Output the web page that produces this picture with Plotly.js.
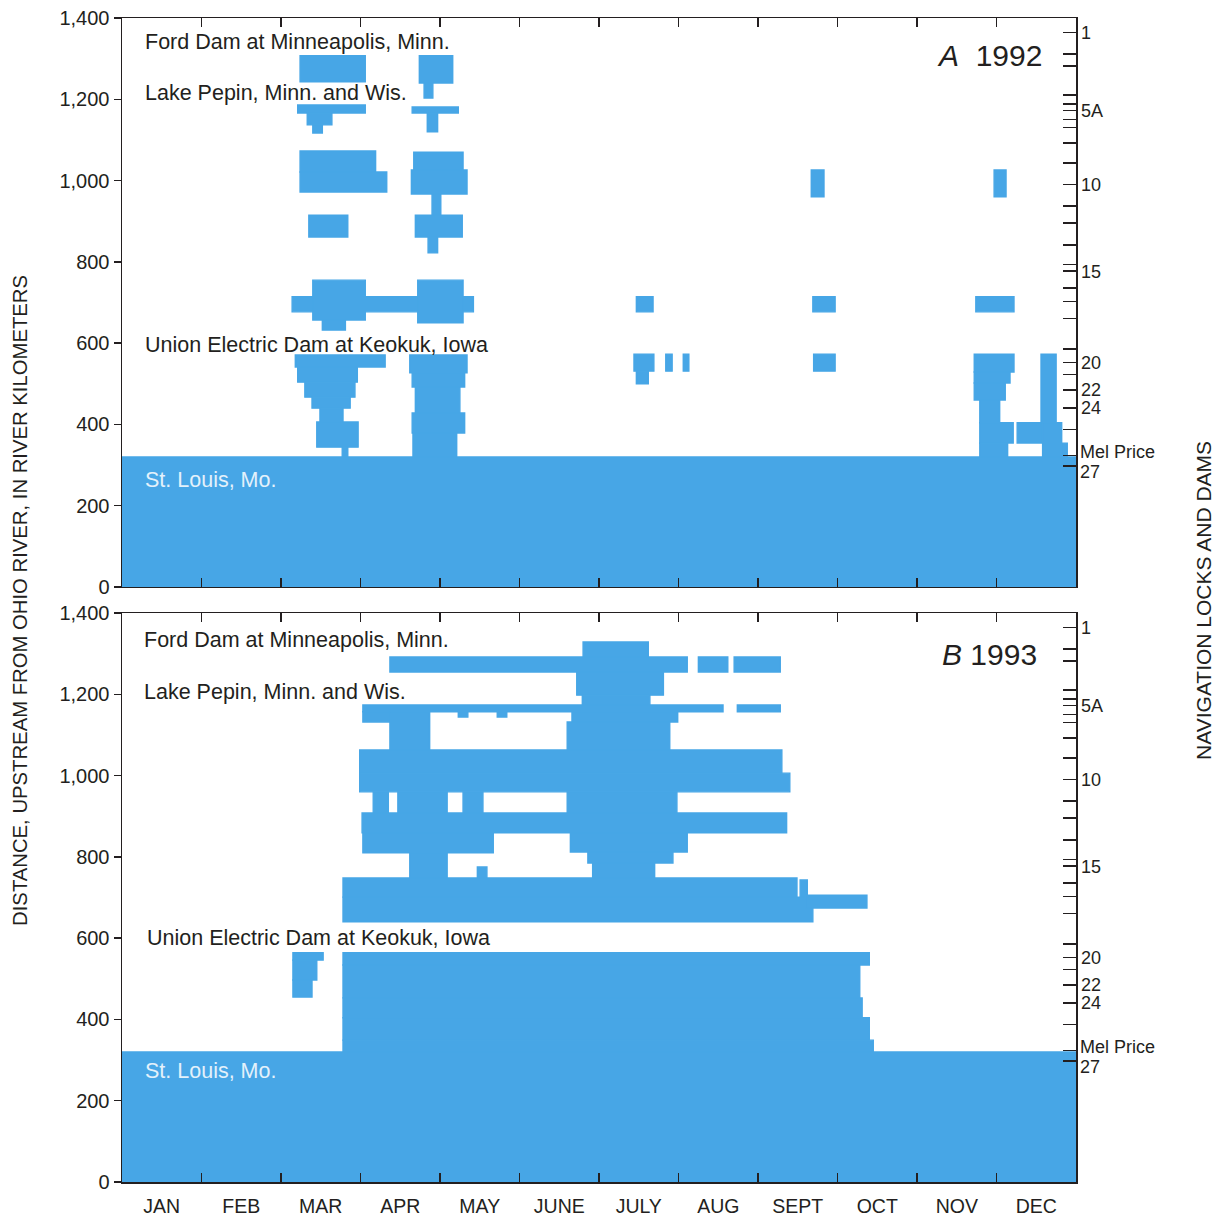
<!DOCTYPE html>
<html>
<head>
<meta charset="utf-8">
<script src="https://cdn.plot.ly/plotly-3.0.1.min.js"></script>
<style>html,body{margin:0;padding:0;background:#fff;}#chart{width:1214px;height:1219px;}</style>
</head>
<body>
<div id="chart"></div>
<script>
// Month labels (x axis in month units, 0 = 1 January, 12 = 31 December)
const months = ["JAN","FEB","MAR","APR","MAY","JUNE","JULY","AUG","SEPT","OCT","NOV","DEC"];

// Navigation locks and dams, distance above the Ohio River (km)
const lockKm    = [1364, 1312, 1282, 1211, 1188, 1172, 1150, 1131, 1093, 1043, 990, 938, 896, 841, 794, 777, 736, 703, 661, 586, 552, 523, 485, 440, 388, 323, 298];
const lockLabel = ["1", "", "", "", "", "5A", "", "", "", "", "10", "", "", "", "", "15", "", "", "", "", "20", "", "22", "24", "", "Mel Price", "27"];

// Panel A, 1992: closed reaches (start month, end month, low km, high km)
const startA = [2.24,3.74,3.80,2.21,2.33,2.40,3.65,3.84,2.24,2.24,3.67,3.64,3.90,2.35,3.69,3.85,2.14,2.40,2.52,3.72,
                2.18,2.21,2.30,2.39,2.49,2.45,2.77,3.62,3.65,3.69,3.65,3.66,
                8.67,10.97,6.47,8.69,10.74,6.44,6.47,6.84,7.06,8.70,
                10.72,10.72,10.72,10.79,10.79,10.79,11.26,11.56,11.58,11.82,0];
const endA   = [3.06,4.16,3.91,3.06,2.64,2.52,4.23,3.97,3.19,3.33,4.29,4.34,4.01,2.84,4.28,3.97,4.42,3.06,2.81,4.29,
                3.31,2.96,2.93,2.87,2.78,2.97,2.84,4.34,4.31,4.25,4.31,4.21,
                8.83,11.12,6.68,8.97,11.22,6.69,6.62,6.92,7.13,8.97,
                11.22,11.17,11.11,11.04,11.21,11.14,11.71,11.75,11.82,11.89,12];
const lowA   = [1243,1240,1203,1166,1137,1117,1166,1120,1021,972,1026,967,910,861,861,822,677,657,632,650,
                541,504,467,440,406,344,318,527,492,428,379,318,
                960,960,677,677,677,531,500,531,531,531,
                529,502,460,404,354,318,354,404,318,318,0];
const highA  = [1307,1307,1240,1186,1166,1137,1181,1166,1073,1021,1070,1026,967,915,915,861,714,755,657,755,
                571,541,504,467,440,406,344,571,527,492,428,379,
                1026,1026,714,714,714,573,531,573,573,573,
                573,529,502,460,404,354,404,573,404,354,320];

// Panel B, 1993
const startB = [3.37,7.25,7.70,5.80,5.72,5.79,3.03,7.74,4.23,4.72,3.03,3.37,5.66,5.60,2.99,2.99,
                3.16,3.47,4.29,5.60,3.02,3.03,5.64,3.62,4.47,5.86,5.92,
                2.78,2.78,8.53,8.60,2.78,2.78,2.78,2.78,2.78,2.15,2.15,2.15,0];
const endB   = [7.11,7.62,8.28,6.62,6.81,6.64,7.56,8.28,4.35,4.84,3.37,3.87,6.99,6.89,8.30,8.40,
                3.35,4.09,4.54,6.98,8.36,4.67,7.11,4.09,4.59,6.93,6.70,
                8.49,8.69,8.62,9.37,9.40,9.28,9.31,9.40,9.45,2.53,2.45,2.39,12];
const lowB   = [1255,1255,1255,1292,1198,1174,1157,1157,1144,1144,1132,1063,1132,1063,1006,960,
                908,908,908,908,859,810,812,748,748,785,748,
                701,640,701,674,534,453,404,349,318,546,497,455,0];
const highB  = [1292,1292,1292,1329,1255,1198,1174,1174,1157,1157,1157,1157,1157,1132,1063,1006,
                960,960,960,960,908,859,859,810,775,812,785,
                748,701,743,706,564,534,453,404,349,564,546,497,320];

const BLUE = "#47a6e6";
const INK = "#231f20";
const FONT = "Liberation Sans, Arial, sans-serif";

function blocks(s, e, lo, hi, xa, ya) {
  return {
    type: "bar", orientation: "h", xaxis: xa, yaxis: ya,
    base: s,
    x: s.map((v, i) => e[i] - v),
    y: lo.map((v, i) => (v + hi[i]) / 2),
    width: lo.map((v, i) => hi[i] - v),
    marker: {color: BLUE, line: {width: 1.4, color: BLUE}},
    hoverinfo: "skip", showlegend: false
  };
}

const traces = [
  blocks(startA, endA, lowA, highA, "x", "y"),
  blocks(startB, endB, lowB, highB, "x2", "y2"),
  {type: "scatter", x: [], y: [], xaxis: "x3", yaxis: "y2", showlegend: false},
  {type: "scatter", x: [], y: [], xaxis: "x", yaxis: "y3", showlegend: false},
  {type: "scatter", x: [], y: [], xaxis: "x2", yaxis: "y4", showlegend: false}
];

const monthEdges = months.slice(1).map((m, i) => i + 1);
const monthCenters = months.map((m, i) => i + 0.5);
const kmTicks = [0, 200, 400, 600, 800, 1000, 1200, 1400];

// Lock labels: the two closely spaced bottom labels are drawn as annotations, nudged apart
const closePair = lockLabel.map((t, i) => i >= lockLabel.length - 2);
const axisLockText = lockLabel.map((t, i) => closePair[i] ? "" : t);

const frameX = {
  range: [0, 12], showgrid: false, zeroline: false, showline: true, linecolor: INK, linewidth: 1.5,
  mirror: "ticks", ticks: "inside", ticklen: 9, tickwidth: 1.5, tickcolor: INK,
  tickmode: "array", tickvals: monthEdges, showticklabels: false, fixedrange: true
};
const frameY = {
  range: [0, 1400], showgrid: false, zeroline: false, showline: true, linecolor: INK, linewidth: 1.5,
  mirror: true, ticks: "outside", ticklen: 7, tickwidth: 1.5, tickcolor: INK,
  tickmode: "array", tickvals: kmTicks, tickformat: ",",
  tickfont: {family: FONT, size: 20, color: INK}, fixedrange: true
};
const lockAxis = {
  range: [0, 1400], side: "right", showgrid: false, zeroline: false, showline: true,
  linecolor: INK, linewidth: 1.5, ticks: "inside", ticklen: 13, tickwidth: 1.5, tickcolor: INK,
  tickmode: "array", tickvals: lockKm, ticktext: axisLockText,
  tickfont: {family: FONT, size: 18, color: INK}, fixedrange: true
};

const domA = [0.5112, 1];
const domB = [0, 0.4888];

function label(text, xref, yref, x, y, opts) {
  return Object.assign({
    text: text, xref: xref, yref: yref, x: x, y: y, showarrow: false,
    xanchor: "left", yanchor: "middle",
    font: {family: FONT, size: 21.5, color: INK}
  }, opts || {});
}

const annotations = [
  label("Ford Dam at Minneapolis, Minn.", "x", "y", 0.27, 1341),
  label("Lake Pepin, Minn. and Wis.", "x", "y", 0.27, 1216),
  label("Union Electric Dam at Keokuk, Iowa", "x", "y", 0.27, 595),
  label("St. Louis, Mo.", "x", "y", 0.27, 263, {font: {family: FONT, size: 21.5, color: "#e3f1fb"}}),
  label("<i>A</i>  1992", "x", "y", 11.6, 1307, {xanchor: "right", font: {family: FONT, size: 30, color: INK}}),
  label("Ford Dam at Minneapolis, Minn.", "x2", "y2", 0.25, 1334),
  label("Lake Pepin, Minn. and Wis.", "x2", "y2", 0.25, 1206),
  label("Union Electric Dam at Keokuk, Iowa", "x2", "y2", 0.29, 600),
  label("St. Louis, Mo.", "x2", "y2", 0.27, 273, {font: {family: FONT, size: 21.5, color: "#e3f1fb"}}),
  label("<i>B</i> 1993", "x2", "y2", 11.54, 1297, {xanchor: "right", font: {family: FONT, size: 30, color: INK}}),
  label("DISTANCE, UPSTREAM FROM OHIO RIVER, IN RIVER KILOMETERS", "paper", "paper", -0.107, 0.5,
        {xanchor: "center", textangle: -90, font: {family: FONT, size: 20.3, color: INK}}),
  label("NAVIGATION LOCKS AND DAMS", "paper", "paper", 1.133, 0.5,
        {xanchor: "center", textangle: -90, font: {family: FONT, size: 21, color: INK}})
];
[["x", "y3"], ["x2", "y4"]].forEach(([xa, ya]) => {
  lockLabel.forEach((t, i) => {
    if (!closePair[i]) return;
    const upper = i === lockLabel.length - 2;
    annotations.push(label(t, xa, ya, 12, lockKm[i], {
      xshift: 3, yshift: upper ? 4 : -6, borderpad: 0,
      font: {family: FONT, size: 18, color: INK}
    }));
  });
});

const layout = {
  width: 1214, height: 1219,
  margin: {l: 122, r: 138, t: 18, b: 37, pad: 0},
  paper_bgcolor: "#ffffff", plot_bgcolor: "#ffffff",
  barmode: "overlay", showlegend: false,
  font: {family: FONT, color: INK},
  xaxis: Object.assign({}, frameX, {anchor: "y", domain: [0, 1]}),
  yaxis: Object.assign({}, frameY, {anchor: "x", domain: domA}),
  xaxis2: Object.assign({}, frameX, {anchor: "y2", domain: [0, 1]}),
  yaxis2: Object.assign({}, frameY, {anchor: "x2", domain: domB}),
  xaxis3: {overlaying: "x2", anchor: "y2", side: "bottom", range: [0, 12], showgrid: false, zeroline: false,
           showline: false, ticks: "outside", ticklen: 7, tickcolor: "rgba(0,0,0,0)",
           tickmode: "array", tickvals: monthCenters, ticktext: months,
           tickfont: {family: FONT, size: 19.5, color: INK}, fixedrange: true},
  yaxis3: Object.assign({}, lockAxis, {overlaying: "y", anchor: "x"}),
  yaxis4: Object.assign({}, lockAxis, {overlaying: "y2", anchor: "x2"}),
  annotations: annotations
};

Plotly.newPlot("chart", traces, layout, {staticPlot: true, displayModeBar: false});
</script>
</body>
</html>
